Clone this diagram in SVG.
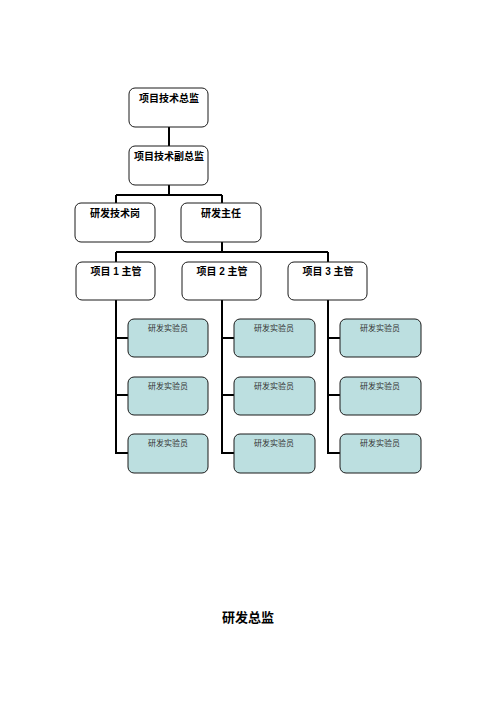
<svg xmlns="http://www.w3.org/2000/svg" width="496" height="702" viewBox="0 0 496 702">
  <style>
    .box { fill: #ffffff; stroke: #1a1a1a; stroke-width: 1; }
    .staff { fill: #bcdfe0; stroke: #1a1a1a; stroke-width: 1; }
    .lbl { font-family: "Liberation Sans", "Noto Sans CJK SC", sans-serif; font-size: 10px; font-weight: bold; fill: #000; text-anchor: middle; }
    .slbl { font-family: "Liberation Sans", "Noto Sans CJK SC", sans-serif; font-size: 8px; fill: #333; text-anchor: middle; }
    .title { font-family: "Liberation Sans", "Noto Sans CJK SC", sans-serif; font-size: 13px; font-weight: bold; fill: #000; text-anchor: middle; }
    .conn { fill: none; stroke: #000; stroke-width: 2; }
  </style>
  <rect width="496" height="702" fill="#ffffff"/>

  <g id="connectors">
    <path class="conn" d="M169 127 V146"/>
    <path class="conn" d="M169 185 V195 M116 195 H222 M116 195 V203 M222 195 V203"/>
    <path class="conn" d="M222 242 V252 M116 252 H328 M116 252 V262 M328 252 V262"/>
    <path class="conn" d="M116 300 V453 H128 M116 338 H128 M116 395 H128"/>
    <path class="conn" d="M222 300 V453 H234 M222 338 H234 M222 395 H234"/>
    <path class="conn" d="M328 300 V453 H340 M328 338 H340 M328 395 H340"/>
  </g>

  <g id="director">
    <rect class="box" x="129" y="88" width="79" height="39" rx="6"/>
    <text class="lbl" x="169" y="102">项目技术总监</text>
  </g>
  <g id="deputy">
    <rect class="box" x="129" y="146" width="79" height="39" rx="6"/>
    <text class="lbl" x="169" y="160">项目技术副总监</text>
  </g>
  <g id="tech-post">
    <rect class="box" x="75" y="203" width="80" height="39" rx="6"/>
    <text class="lbl" x="115" y="217">研发技术岗</text>
  </g>
  <g id="rd-lead">
    <rect class="box" x="181" y="203" width="80" height="39" rx="6"/>
    <text class="lbl" x="221" y="217">研发主任</text>
  </g>
  <g id="mgr1">
    <rect class="box" x="76" y="262" width="79" height="38" rx="6"/>
    <text class="lbl" x="116" y="275">项目 1 主管</text>
  </g>
  <g id="mgr2">
    <rect class="box" x="182" y="262" width="79" height="38" rx="6"/>
    <text class="lbl" x="222" y="275">项目 2 主管</text>
  </g>
  <g id="mgr3">
    <rect class="box" x="288" y="262" width="79" height="38" rx="6"/>
    <text class="lbl" x="328" y="275">项目 3 主管</text>
  </g>

  <g id="staff-1-1"><rect class="staff" x="128" y="319" width="80" height="38" rx="6"/><text class="slbl" x="168" y="331">研发实验员</text></g>
  <g id="staff-1-2"><rect class="staff" x="128" y="377" width="80" height="38" rx="6"/><text class="slbl" x="168" y="389">研发实验员</text></g>
  <g id="staff-1-3"><rect class="staff" x="128" y="434" width="80" height="39" rx="6"/><text class="slbl" x="168" y="446">研发实验员</text></g>
  <g id="staff-2-1"><rect class="staff" x="234" y="319" width="81" height="38" rx="6"/><text class="slbl" x="274" y="331">研发实验员</text></g>
  <g id="staff-2-2"><rect class="staff" x="234" y="377" width="81" height="38" rx="6"/><text class="slbl" x="274" y="389">研发实验员</text></g>
  <g id="staff-2-3"><rect class="staff" x="234" y="434" width="81" height="39" rx="6"/><text class="slbl" x="274" y="446">研发实验员</text></g>
  <g id="staff-3-1"><rect class="staff" x="340" y="319" width="81" height="38" rx="6"/><text class="slbl" x="380" y="331">研发实验员</text></g>
  <g id="staff-3-2"><rect class="staff" x="340" y="377" width="81" height="38" rx="6"/><text class="slbl" x="380" y="389">研发实验员</text></g>
  <g id="staff-3-3"><rect class="staff" x="340" y="434" width="81" height="39" rx="6"/><text class="slbl" x="380" y="446">研发实验员</text></g>

  <text class="title" x="248" y="622">研发总监</text>
</svg>
